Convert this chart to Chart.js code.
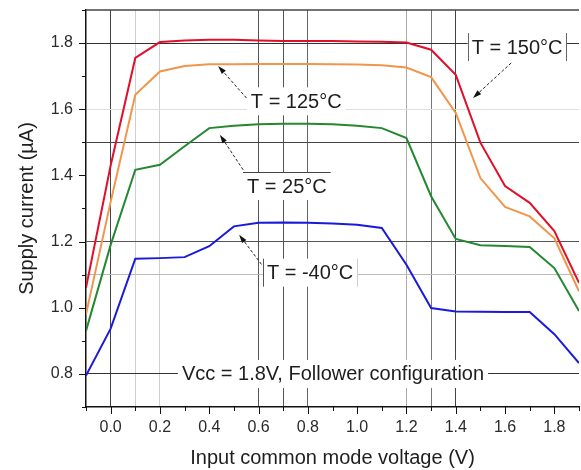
<!DOCTYPE html>
<html>
<head>
<meta charset="utf-8">
<script src="https://cdn.jsdelivr.net/npm/chart.js@4.4.0/dist/chart.umd.min.js"></script>
<style>
  html, body { margin: 0; padding: 0; background: #fff; }
  #chart { display: block; }
</style>
</head>
<body>
<canvas id="chart" width="581" height="470"></canvas>
<script>
// Supply current vs input common mode voltage

const inputVoltage = [-0.1, 0.0, 0.1, 0.2, 0.3, 0.4, 0.5, 0.6, 0.7, 0.8, 0.9, 1.0, 1.1, 1.2, 1.3, 1.4, 1.5, 1.6, 1.7, 1.8, 1.9];

const current150 = [1.06, 1.43, 1.755, 1.803, 1.808, 1.81, 1.81, 1.808, 1.806, 1.806, 1.806, 1.805, 1.804, 1.802, 1.78, 1.704, 1.499, 1.368, 1.317, 1.232, 1.075];
const current125 = [0.98, 1.32, 1.644, 1.714, 1.731, 1.736, 1.736, 1.737, 1.737, 1.737, 1.736, 1.735, 1.733, 1.726, 1.697, 1.589, 1.392, 1.305, 1.276, 1.21, 1.05];
const current25 = [0.93, 1.19, 1.417, 1.432, 1.488, 1.543, 1.55, 1.555, 1.556, 1.556, 1.555, 1.55, 1.543, 1.513, 1.337, 1.208, 1.189, 1.187, 1.184, 1.12, 0.99];
const currentM40 = [0.795, 0.937, 1.148, 1.15, 1.153, 1.186, 1.246, 1.257, 1.258, 1.257, 1.255, 1.251, 1.241, 1.13, 0.999, 0.989, 0.988, 0.987, 0.987, 0.92, 0.833];

const xTickLabels = ['0.0', '0.2', '0.4', '0.6', '0.8', '1.0', '1.2', '1.4', '1.6', '1.8'];
const yTickLabels = ['0.8', '1.0', '1.2', '1.4', '1.6', '1.8'];

const FONT = '"Liberation Sans", Arial, sans-serif';

function points(ys) {
    return inputVoltage.map((x, i) => ({ x: x, y: ys[i] }));
}

function series(label, ys, color) {
    return {
        label: label,
        data: points(ys),
        borderColor: color,
        borderWidth: 2,
        pointRadius: 0,
        tension: 0,
        fill: false
    };
}

// grid lines in the original are uneven, only some of them are drawn
const xGrid = { 0: '#444', 1: '#cfcfcf', 2: '#cfcfcf', 6: '#555', 7: '#555', 8: '#666', 12: '#aaa', 13: '#777', 14: '#444' };
const yGrid = { 18: '#333', 16: '#dedede', 15: '#444', 12: '#555', 11: '#bbb', 8: '#333' };

// labels with white boxes, in data units
const notes = [
    { text: 'T = 150°C', x: 1.649, y: 1.788, bars: ['#666', '#666'] },
    { text: 'T = 125°C', x: 0.753, y: 1.624 },
    { text: 'T = 25°C', x: 0.715, y: 1.368, topLine: true },
    { text: 'T = -40°C', x: 0.809, y: 1.106, bars: ['#555', '#ccc'] },
    { text: 'Vcc = 1.8V, Follower configuration', x: 0.902, y: 0.8 }
];

const arrows = [
    [1.625, 1.740, 1.470, 1.634],
    [0.551, 1.634, 0.436, 1.731],
    [0.5375, 1.417, 0.443, 1.523],
    [0.612, 1.131, 0.521, 1.221]
];

function drawArrow(ctx, x1, y1, x2, y2) {
    const ang = Math.atan2(y2 - y1, x2 - x1);
    const head = 9;
    ctx.save();
    ctx.strokeStyle = '#222';
    ctx.lineWidth = 1;
    ctx.setLineDash([3, 2]);
    ctx.beginPath();
    ctx.moveTo(x1, y1);
    ctx.lineTo(x2 - head * Math.cos(ang), y2 - head * Math.sin(ang));
    ctx.stroke();
    ctx.setLineDash([]);
    ctx.fillStyle = '#111';
    ctx.beginPath();
    ctx.moveTo(x2, y2);
    ctx.lineTo(x2 - head * Math.cos(ang - 0.3), y2 - head * Math.sin(ang - 0.3));
    ctx.lineTo(x2 - head * Math.cos(ang + 0.3), y2 - head * Math.sin(ang + 0.3));
    ctx.closePath();
    ctx.fill();
    ctx.restore();
}

const notesPlugin = {
    id: 'notes',
    beforeDatasetsDraw(chart) {
        const ctx = chart.ctx;
        const sx = chart.scales.x, sy = chart.scales.y;
        ctx.save();
        ctx.font = '20px ' + FONT;
        ctx.fillStyle = '#fff';
        notes.forEach(n => {
            const w = ctx.measureText(n.text).width;
            const cx = sx.getPixelForValue(n.x), cy = sy.getPixelForValue(n.y);
            ctx.fillRect(cx - w / 2 - 4, cy - 14, w + 8, 28);
        });
        ctx.restore();
    },
    afterDatasetsDraw(chart) {
        const ctx = chart.ctx;
        const sx = chart.scales.x, sy = chart.scales.y;
        const area = chart.chartArea;
        ctx.save();
        ctx.font = '20px ' + FONT;
        ctx.textAlign = 'center';
        ctx.textBaseline = 'middle';
        notes.forEach(n => {
            const w = ctx.measureText(n.text).width;
            const cx = sx.getPixelForValue(n.x), cy = sy.getPixelForValue(n.y);
            ctx.fillStyle = '#1e1e1e';
            ctx.fillText(n.text, cx, cy + 1);
            ctx.lineWidth = 1;
            if (n.bars) {
                [[cx - w / 2 - 3.5, n.bars[0]], [cx + w / 2 + 3.5, n.bars[1]]].forEach(b => {
                    ctx.strokeStyle = b[1];
                    ctx.beginPath();
                    ctx.moveTo(Math.round(b[0]) + 0.5, cy - 14);
                    ctx.lineTo(Math.round(b[0]) + 0.5, cy + 14);
                    ctx.stroke();
                });
            }
            if (n.topLine) {
                ctx.strokeStyle = '#444';
                ctx.beginPath();
                ctx.moveTo(cx - w / 2 - 4, Math.round(cy - 14) + 0.5);
                ctx.lineTo(cx + w / 2 + 4, Math.round(cy - 14) + 0.5);
                ctx.stroke();
            }
        });
        arrows.forEach(a => {
            drawArrow(ctx, sx.getPixelForValue(a[0]), sy.getPixelForValue(a[1]),
                sx.getPixelForValue(a[2]), sy.getPixelForValue(a[3]));
        });

        // top frame line
        ctx.strokeStyle = '#444';
        ctx.lineWidth = 1.5;
        ctx.beginPath();
        ctx.moveTo(area.left, area.top);
        ctx.lineTo(area.right, area.top);
        ctx.stroke();

        // outward tick marks, major every 0.2, minor every 0.1
        ctx.strokeStyle = '#111';
        ctx.lineWidth = 1;
        for (let k = -1; k <= 19; k++) {
            const x = Math.round(sx.getPixelForValue(k / 10)) + 0.5;
            const len = k % 2 === 0 ? 7 : 4;
            ctx.beginPath();
            ctx.moveTo(x, area.bottom);
            ctx.lineTo(x, area.bottom + len);
            ctx.stroke();
        }
        for (let k = 7; k <= 19; k++) {
            const y = Math.round(sy.getPixelForValue(k / 10)) + 0.5;
            const len = k % 2 === 0 ? 7 : 4;
            ctx.beginPath();
            ctx.moveTo(area.left - len, y);
            ctx.lineTo(area.left, y);
            ctx.stroke();
        }
        ctx.restore();
    }
};

function gridColor(map) {
    return function(c) {
        if (!c.tick) return 'rgba(0,0,0,0)';
        const k = Math.round(c.tick.value * 10);
        return map[k] || 'rgba(0,0,0,0)';
    };
}

function tickText(list) {
    return function(value) {
        const s = (Math.round(value * 10) / 10).toFixed(1);
        return list.includes(s) ? s : '';
    };
}

const ctx = document.getElementById('chart').getContext('2d');
const myChart = new Chart(ctx, {
    type: 'line',
    data: {
        datasets: [
            series('T = 150°C', current150, '#e0102a'),
            series('T = 125°C', current125, '#f0964c'),
            series('T = 25°C', current25, '#23882f'),
            series('T = -40°C', currentM40, '#1a1adb')
        ]
    },
    options: {
        responsive: false,
        animation: false,
        devicePixelRatio: 1,
        layout: { padding: { top: 10, right: 2, left: 0, bottom: 0 } },
        plugins: {
            legend: { display: false },
            tooltip: { enabled: false }
        },
        scales: {
            x: {
                type: 'linear',
                min: -0.1,
                max: 1.9,
                afterFit(scale) {
                    scale.height = 63;
                    scale.paddingLeft = 0;
                    scale.paddingRight = 0;
                },
                ticks: {
                    stepSize: 0.1,
                    autoSkip: false,
                    maxRotation: 0,
                    padding: 11,
                    color: '#2a2a2a',
                    font: { family: FONT, size: 16 },
                    callback: tickText(xTickLabels)
                },
                grid: { color: gridColor(xGrid), lineWidth: 1, drawTicks: false },
                border: { color: '#111', width: 1.5 },
                title: {
                    display: true,
                    text: 'Input common mode voltage (V)',
                    color: '#1e1e1e',
                    font: { family: FONT, size: 20 },
                    padding: { top: 0, bottom: 0 }
                }
            },
            y: {
                type: 'linear',
                min: 0.7,
                max: 1.9,
                afterFit(scale) {
                    scale.width = 86;
                    scale.paddingTop = 0;
                    scale.paddingBottom = 0;
                },
                ticks: {
                    stepSize: 0.1,
                    autoSkip: false,
                    padding: 13,
                    color: '#2a2a2a',
                    font: { family: FONT, size: 16 },
                    callback: tickText(yTickLabels)
                },
                grid: { color: gridColor(yGrid), lineWidth: 1, drawTicks: false },
                border: { color: '#111', width: 1.5 },
                title: {
                    display: true,
                    text: 'Supply current (µA)',
                    color: '#1e1e1e',
                    font: { family: FONT, size: 20 },
                    padding: { top: 15, bottom: 0 }
                }
            }
        }
    },
    plugins: [notesPlugin]
});
</script>
</body>
</html>
